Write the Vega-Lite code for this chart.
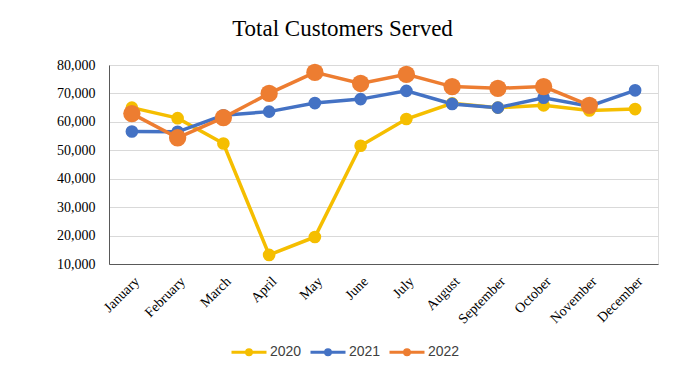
{
  "$schema": "https://vega.github.io/schema/vega-lite/v6.json",
  "width": 549,
  "height": 199,
  "autosize": "none",
  "padding": {"left": 109, "top": 65, "right": 27, "bottom": 114},
  "background": "white",
  "title": {"text": "Total Customers Served", "font": "Liberation Serif", "fontSize": 23, "fontWeight": "normal", "color": "#000000", "frame": "group", "anchor": "middle", "offset": 17, "dx": -41},
  "data": {"values": [
    {"month": "January", "year": "2020", "value": 65000},
    {"month": "February", "year": "2020", "value": 61300},
    {"month": "March", "year": "2020", "value": 52400},
    {"month": "April", "year": "2020", "value": 13200},
    {"month": "May", "year": "2020", "value": 19500},
    {"month": "June", "year": "2020", "value": 51600},
    {"month": "July", "year": "2020", "value": 61000},
    {"month": "August", "year": "2020", "value": 66500},
    {"month": "September", "year": "2020", "value": 65000},
    {"month": "October", "year": "2020", "value": 65800},
    {"month": "November", "year": "2020", "value": 64000},
    {"month": "December", "year": "2020", "value": 64500},
    {"month": "January", "year": "2021", "value": 56600},
    {"month": "February", "year": "2021", "value": 56500},
    {"month": "March", "year": "2021", "value": 62300},
    {"month": "April", "year": "2021", "value": 63600},
    {"month": "May", "year": "2021", "value": 66600},
    {"month": "June", "year": "2021", "value": 68000},
    {"month": "July", "year": "2021", "value": 70900},
    {"month": "August", "year": "2021", "value": 66300},
    {"month": "September", "year": "2021", "value": 65000},
    {"month": "October", "year": "2021", "value": 68500},
    {"month": "November", "year": "2021", "value": 65500},
    {"month": "December", "year": "2021", "value": 71100},
    {"month": "January", "year": "2022", "value": 62900},
    {"month": "February", "year": "2022", "value": 54400},
    {"month": "March", "year": "2022", "value": 61500},
    {"month": "April", "year": "2022", "value": 70000},
    {"month": "May", "year": "2022", "value": 77400},
    {"month": "June", "year": "2022", "value": 73500},
    {"month": "July", "year": "2022", "value": 76700},
    {"month": "August", "year": "2022", "value": 72400},
    {"month": "September", "year": "2022", "value": 71800},
    {"month": "October", "year": "2022", "value": 72400},
    {"month": "November", "year": "2022", "value": 65800}
  ]},
  "encoding": {
    "x": {
      "field": "month", "type": "nominal",
      "sort": ["January", "February", "March", "April", "May", "June", "July", "August", "September", "October", "November", "December"],
      "axis": {"title": null, "labelAngle": -45, "labelFont": "Liberation Serif", "labelFontSize": 14, "labelColor": "#000000", "ticks": false, "domainColor": "#595959", "domainWidth": 1, "labelPadding": 10, "grid": false}
    },
    "y": {
      "field": "value", "type": "quantitative",
      "scale": {"domain": [10000, 80000], "nice": false, "zero": false},
      "axis": {"title": null, "values": [10000, 20000, 30000, 40000, 50000, 60000, 70000, 80000], "format": ",.0f", "labelFont": "Liberation Serif", "labelFontSize": 14, "labelColor": "#000000", "ticks": false, "labelPadding": 14, "gridColor": "#d9d9d9", "gridWidth": 1, "domainColor": "#595959", "domainWidth": 1}
    },
    "color": {
      "field": "year", "type": "nominal",
      "scale": {"domain": ["2020", "2021", "2022"], "range": ["#F5BE00", "#4472C4", "#ED7D31"]},
      "legend": {
        "orient": "none", "legendX": 121, "legendY": 268, "direction": "horizontal", "title": null,
        "symbolType": "M-1,0L1,0M0.14,0A0.14,0.14 0 1,1 -0.14,0A0.14,0.14 0 1,1 0.14,0",
        "symbolSize": 1225, "symbolStrokeWidth": 3,
        "labelFont": "Liberation Sans", "labelFontSize": 14, "labelColor": "#404040",
        "columnPadding": 2, "labelOffset": 2,
        "encode": {"symbols": {"update": {"fill": {"signal": "scale('color', datum.value)"}, "stroke": {"signal": "scale('color', datum.value)"}, "opacity": {"value": 1}, "size": {"value": 1225}, "strokeWidth": {"value": 3}}}}
      }
    }
  },
  "layer": [
    {"mark": {"type": "line", "strokeWidth": 3.5}},
    {"transform": [{"filter": "datum.year !== '2022'"}],
     "mark": {"type": "point", "filled": true, "opacity": 1, "size": 160}},
    {"transform": [{"filter": "datum.year === '2022'"}],
     "mark": {"type": "point", "filled": true, "opacity": 1, "size": 300}}
  ]
}
